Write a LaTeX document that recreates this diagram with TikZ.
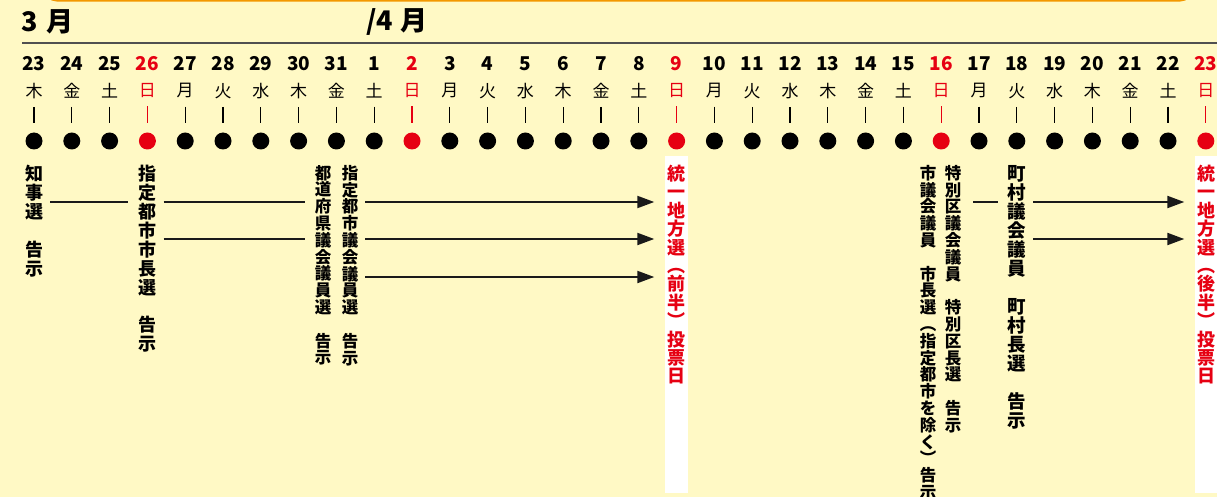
\documentclass[tikz,border=0pt]{standalone}
\usepackage{fontspec}
\usepackage{xcolor}
\usetikzlibrary{arrows.meta}
\setmainfont{Noto Sans CJK JP}
\definecolor{cream}{HTML}{FFF9C5}
\definecolor{sunred}{HTML}{E60012}
\definecolor{rim}{HTML}{F39800}
\definecolor{ink}{HTML}{1A1A1A}
\definecolor{rulegray}{HTML}{505050}

\begin{document}
\begin{tikzpicture}[x=1pt,y=-1pt,
  month/.style={font=\fontsize{27}{27}\selectfont\bfseries,inner sep=0,anchor=west},
  daynum/.style={font=\fontsize{19}{19}\selectfont\bfseries,inner sep=0},
  wday/.style={font=\fontsize{17}{17}\selectfont,inner sep=0},
  ball/.style={circle,fill=#1,minimum size=17pt,inner sep=0},
  vt/.style={align=center,anchor=north,inner sep=0},
  strip/.style={fill=white,minimum width=23pt,minimum height=337pt,inner sep=0,anchor=north},
  link/.style={ink,line width=2pt,shorten <=7pt,shorten >=10pt}]
\path[use as bounding box,fill=cream] (0,0) rectangle (1217,497);
\draw[rim,line width=2.5pt,rounded corners=12pt] (45,-40) rectangle (1192,0.3);

% months and the rule under them
\node[month] (mar) at (21,22) {3\hspace{9pt}月};
\node[month] (apr) at (366,22) {/4\hspace{7pt}月};
\draw[rulegray,line width=1.5pt] (22,43) -- (1217,43);

% polling-day strips
\node[strip] (zen) at (676,156) {};
\node[strip] (kou) at (1206,156) {};

% days
\foreach \d/\w/\c [count=\i from 0] in {23/木/black,24/金/black,25/土/black,26/日/sunred,
    27/月/black,28/火/black,29/水/black,30/木/black,31/金/black,1/土/black,2/日/sunred,
    3/月/black,4/火/black,5/水/black,6/木/black,7/金/black,8/土/black,9/日/sunred,
    10/月/black,11/火/black,12/水/black,13/木/black,14/金/black,15/土/black,16/日/sunred,
    17/月/black,18/火/black,19/水/black,20/木/black,21/金/black,22/土/black,23/日/sunred}
{
  \pgfmathsetmacro\x{34+37.8*\i}
  \node[daynum,text=\c] (n\i) at (\x,63.5) {\d};
  \node[wday,text=\c] (w\i) at (\x,91) {\w};
  \node[ball=\c] (p\i) at (\x,141) {};
  \draw[\c,line width=1.2pt,shorten <=8pt,shorten >=9.5pt] (w\i.south) -- (p\i.north);
}

% notices
\node[vt,font=\fontsize{18}{19}\selectfont\bfseries] (chiji) at (34,165) {知\\事\\選\\　\\告\\示};
\node[vt,font=\fontsize{18}{18.9}\selectfont\bfseries] (shicho) at (147.4,165) {指\\定\\都\\市\\市\\長\\選\\　\\告\\示};
\node[vt,font=\fontsize{16.5}{16.8}\selectfont\bfseries] (todofuken) at (323,165) {都\\道\\府\\県\\議\\会\\議\\員\\選\\　\\告\\示};
\node[vt,font=\fontsize{16.5}{16.8}\selectfont\bfseries] (shigikai) at (350,165) {指\\定\\都\\市\\議\\会\\議\\員\\選\\　\\告\\示};
\node[vt,font=\fontsize{18}{18.4}\selectfont\bfseries,text=sunred] (zenhan) at (676,165) {統\\一\\地\\方\\選\\︵\\前\\半\\︶\\投\\票\\日};
\node[vt,font=\fontsize{16.5}{16.8}\selectfont\bfseries] (shigi) at (928,165) {市\\議\\会\\議\\員\\　\\市\\長\\選\\︵\\指\\定\\都\\市\\を\\除\\く\\︶\\告\\示};
\node[vt,font=\fontsize{16.5}{16.8}\selectfont\bfseries] (tokubetsu) at (953,165) {特\\別\\区\\議\\会\\議\\員\\　\\特\\別\\区\\長\\選\\　\\告\\示};
\node[vt,font=\fontsize{18.5}{19}\selectfont\bfseries] (chouson) at (1017,165) {町\\村\\議\\会\\議\\員\\　\\町\\村\\長\\選\\　\\告\\示};
\node[vt,font=\fontsize{18}{18.4}\selectfont\bfseries,text=sunred] (kouhan) at (1206,165) {統\\一\\地\\方\\選\\︵\\後\\半\\︶\\投\\票\\日};

% connectors
\coordinate (r1) at (0,202);
\coordinate (r2) at (0,239);
\coordinate (r3) at (0,277);
\draw[link] (chiji.east |- r1) -- (shicho.west |- r1);
\draw[link] (shicho.east |- r1) -- (todofuken.west |- r1);
\draw[link] (shicho.east |- r2) -- (todofuken.west |- r2);
\foreach \r in {r1,r2,r3}
  \draw[link,-{Triangle[length=17pt,width=12pt]}] (shigikai.east |- \r) -- (zen.west |- \r);
\draw[link,shorten <=12pt] (tokubetsu.east |- r1) -- (chouson.west |- r1);
\foreach \r in {r1,r2}
  \draw[link,-{Triangle[length=17pt,width=12pt]}] (chouson.east |- \r) -- (kou.west |- \r);
\end{tikzpicture}
\end{document}
